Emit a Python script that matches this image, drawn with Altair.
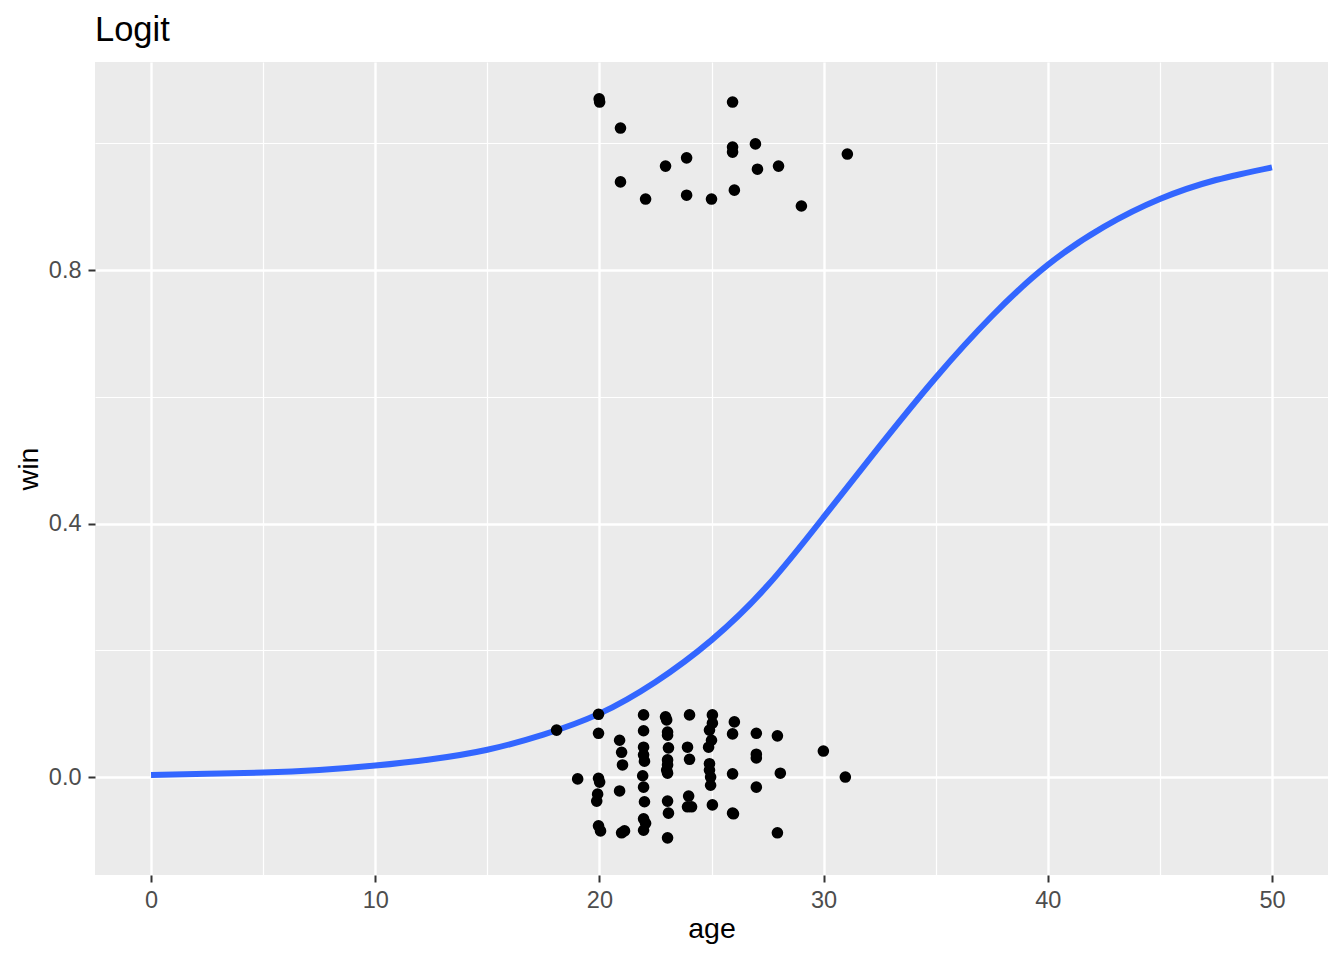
import altair as alt
import pandas as pd

# Observed (jittered) data points
pt_age = [19.99, 20.01, 25.94, 20.94, 25.94, 25.94, 26.96, 31.06, 23.89, 22.95,
          27.05, 27.99, 20.94, 22.06, 23.89, 25.00, 26.02, 29.01,
          18.09, 19.96, 19.96, 21.97, 22.95, 23.00, 24.02, 25.04, 25.04, 24.91,
          26.02, 21.97, 23.04, 23.04, 25.94, 27.00, 27.94, 25.00, 24.87, 20.90,
          21.97, 23.08, 23.93, 20.99, 21.97, 22.01, 23.04, 23.04, 24.02, 27.00,
          27.00, 29.99, 21.03, 23.00, 23.04, 24.91, 24.91, 24.96, 24.96, 25.94,
          28.07, 19.03, 19.96, 20.01, 21.93, 21.97, 20.90, 27.00, 30.97, 19.92,
          19.88, 22.01, 23.04, 23.98, 23.93, 24.11, 25.04, 25.94, 25.98, 23.08,
          21.97, 22.06, 21.97, 19.96, 20.05, 20.99, 21.12, 27.94, 23.04]
pt_win = [1.070, 1.065, 1.065, 1.024, 0.994, 0.986, 0.999, 0.983, 0.977, 0.964,
          0.959, 0.964, 0.939, 0.912, 0.918, 0.912, 0.926, 0.901,
          0.074, 0.099, 0.069, 0.098, 0.095, 0.090, 0.098, 0.098, 0.085, 0.074,
          0.087, 0.073, 0.071, 0.066, 0.068, 0.069, 0.065, 0.058, 0.047, 0.058,
          0.047, 0.046, 0.047, 0.039, 0.035, 0.025, 0.027, 0.019, 0.028, 0.036,
          0.030, 0.041, 0.019, 0.011, 0.006, 0.021, 0.011, 0.000, -0.013, 0.005,
          0.006, -0.003, -0.002, -0.008, 0.002, -0.016, -0.022, -0.016, 0.000, -0.027,
          -0.038, -0.039, -0.038, -0.030, -0.047, -0.047, -0.044, -0.057, -0.058, -0.057,
          -0.066, -0.073, -0.084, -0.077, -0.085, -0.088, -0.085, -0.088, -0.096]

# Fitted logistic curve
curve_age = [0, 2.5, 5, 7.5, 10, 12.5, 15, 17.5, 20, 22.5, 25, 27.5, 30,
             32.5, 35, 37.5, 40, 42.5, 45, 47.5, 50]
curve_win = [0.003, 0.005, 0.007, 0.011, 0.018, 0.028, 0.043, 0.067, 0.100, 0.150,
             0.216, 0.302, 0.410, 0.522, 0.630, 0.727, 0.808, 0.868, 0.912, 0.942, 0.962]

x_ticks = [0, 5, 10, 15, 20, 25, 30, 35, 40, 45, 50]
y_ticks = [0.0, 0.2, 0.4, 0.6, 0.8, 1.0]

pts = pd.DataFrame({"age": pt_age, "win": pt_win})
curve = pd.DataFrame({"age": curve_age, "win": curve_win})

FONT = "Liberation Sans"
x_major = "datum.value % 10 == 0"
y_major = "round(datum.value * 10) % 4 == 0"

x_scale = alt.Scale(domain=[-2.5, 52.5], nice=False, zero=False)
y_scale = alt.Scale(domain=[-0.1546, 1.1282], nice=False, zero=False)

x_axis = alt.Axis(
    values=x_ticks, title="age", domain=False,
    labelExpr=f"{x_major} ? format(datum.value, 'd') : ''",
    labelFont=FONT, labelFontSize=23.5, labelColor="#4D4D4D",
    labelBaseline="alphabetic", labelPadding=25, labelFlush=False,
    tickSize=7, tickWidth=2, tickColor="#333333",
    tickOpacity={"condition": {"test": x_major, "value": 1}, "value": 0},
    gridColor="white",
    gridWidth={"condition": {"test": x_major, "value": 2.4}, "value": 1.2},
    titleFont=FONT, titleFontSize=28.5, titleColor="black", titleFontWeight="normal",
    titleBaseline="alphabetic", titleY=62,
)
y_axis = alt.Axis(
    values=y_ticks, title="win", domain=False,
    labelExpr=f"{y_major} ? format(datum.value, '.1f') : ''",
    labelFont=FONT, labelFontSize=23.5, labelColor="#4D4D4D",
    labelPadding=7, labelFlush=False,
    tickSize=7, tickWidth=2, tickColor="#333333",
    tickOpacity={"condition": {"test": y_major, "value": 1}, "value": 0},
    gridColor="white",
    gridWidth={"condition": {"test": y_major, "value": 2.4}, "value": 1.2},
    titleFont=FONT, titleFontSize=28.5, titleColor="black", titleFontWeight="normal",
    titleAngle=-90, titleBaseline="alphabetic", titleX=-58,
)

line = alt.Chart(curve).mark_line(color="#3366FF", strokeWidth=6, interpolate="natural").encode(
    x=alt.X("age:Q", scale=x_scale, axis=x_axis),
    y=alt.Y("win:Q", scale=y_scale, axis=y_axis),
)
points = alt.Chart(pts).mark_circle(color="black", size=135, opacity=1).encode(
    x=alt.X("age:Q", scale=x_scale),
    y=alt.Y("win:Q", scale=y_scale),
)

chart = alt.layer(line, points).properties(
    width=1233, height=813,
    padding={"left": 87, "top": 54, "right": 8, "bottom": 77},
    autosize=alt.AutoSizeParams(type="none"),
    title=alt.TitleParams("Logit", anchor="start", font=FONT, fontSize=34.5,
                          fontWeight="normal", color="black", offset=15, dy=28,
                          baseline="alphabetic", frame="group"),
).configure_view(fill="#EBEBEB", strokeWidth=0)

chart.save("out.html", embed_options={"renderer": "svg", "actions": False})
